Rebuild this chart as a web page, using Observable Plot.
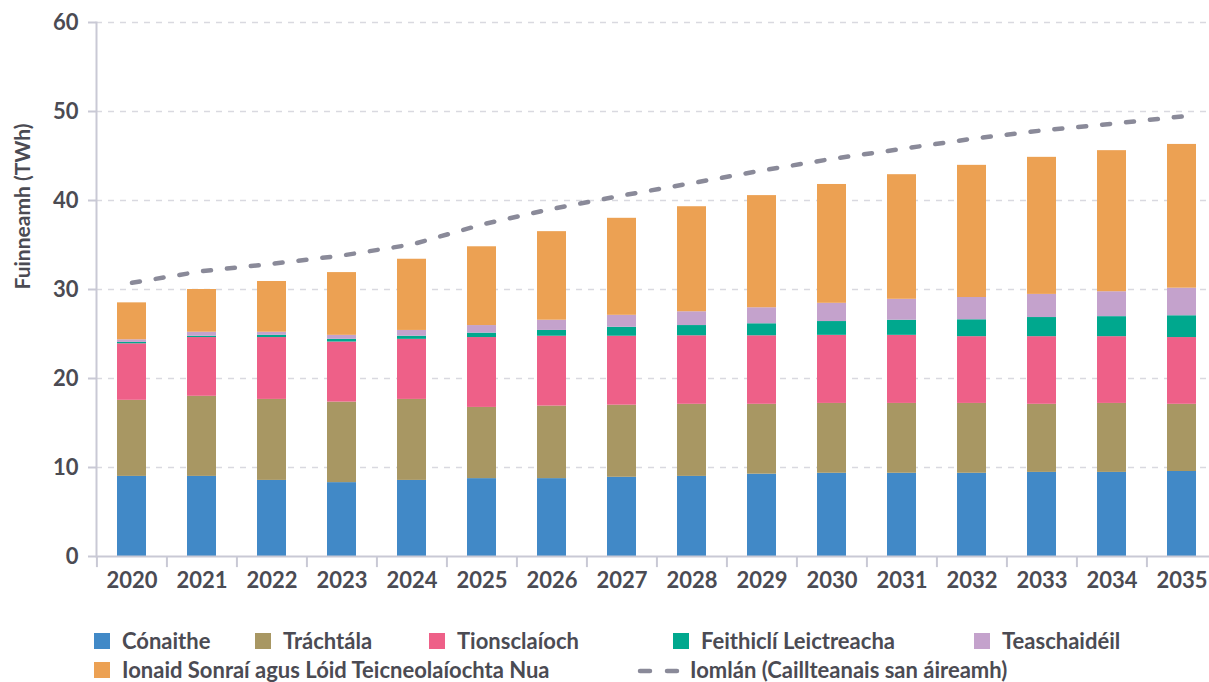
<!DOCTYPE html>
<html><head><meta charset="utf-8">
<script src="https://cdn.jsdelivr.net/npm/d3@7"></script>
<script src="https://cdn.jsdelivr.net/npm/@observablehq/plot@0.6"></script>
<style>
html,body{margin:0;padding:0;background:#fff;overflow:hidden}
#wrap{position:relative;width:1209px;height:682px;font-family:Lato,sans-serif;color:#4b4b53}
#chart{position:absolute;left:0;top:0}
.item{position:absolute;display:flex;align-items:center;font-size:22px;font-weight:700;white-space:nowrap;line-height:24px;height:24px}
.sw{width:16px;height:16px;margin-right:12px;flex:none}
</style></head><body><div id="wrap"><div id="chart"></div><div id="legend"></div></div>
<script>
const years = ["2020","2021","2022","2023","2024","2025","2026","2027","2028","2029","2030","2031","2032","2033","2034","2035"];
const seriesNames = ["Cónaithe","Tráchtála","Tionsclaíoch","Feithiclí Leictreacha","Teaschaidéil","Ionaid Sonraí agus Lóid Teicneolaíochta Nua"];
const seriesColors = ["#4189c7","#a89763","#ee6088","#00a88e","#c4a2cc","#eca153"];
const conaithe     = [9.0, 9.0, 8.55, 8.3, 8.55, 8.75, 8.75, 8.9, 9.0, 9.25, 9.35, 9.35, 9.35, 9.45, 9.45, 9.55];
const trachtala    = [8.55, 9.0, 9.1, 9.05, 9.1, 8.0, 8.15, 8.1, 8.1, 7.85, 7.85, 7.85, 7.85, 7.65, 7.75, 7.55];
const tionsclaioch = [6.35, 6.6, 6.95, 6.75, 6.75, 7.85, 7.85, 7.75, 7.7, 7.7, 7.65, 7.65, 7.5, 7.6, 7.5, 7.5];
const feithicli    = [0.15, 0.15, 0.25, 0.3, 0.35, 0.5, 0.65, 1.0, 1.15, 1.35, 1.55, 1.7, 1.9, 2.15, 2.25, 2.45];
const teaschaideil = [0.3, 0.45, 0.35, 0.45, 0.65, 0.85, 1.15, 1.35, 1.55, 1.8, 2.05, 2.35, 2.5, 2.6, 2.8, 3.1];
const ionaid       = [4.15, 4.8, 5.7, 7.05, 8.0, 8.85, 9.95, 10.9, 11.8, 12.6, 13.35, 14.0, 14.85, 15.4, 15.85, 16.15];
const iomlan       = [30.75, 32.06, 32.88, 33.82, 35.06, 37.3, 39.06, 40.56, 41.95, 43.37, 44.68, 45.8, 46.93, 47.87, 48.62, 49.44];
const lineName = "Iomlán (Caillteanais san áireamh)";
const yLabel = "Fuinneamh (TWh)";
const yTicks = [0,10,20,30,40,50,60];

const seriesValues = [conaithe, trachtala, tionsclaioch, feithicli, teaschaideil, ionaid];
const rows = [];
seriesNames.forEach((s,i)=>years.forEach((y,j)=>rows.push({year:y, key:s, value:seriesValues[i][j]})));
const totalRows = years.map((y,j)=>({year:y, total:iomlan[j]}));

const axisColor = "#c9c9d5";
const plot = Plot.plot({
  width: 1209, height: 600,
  marginTop: 22, marginBottom: 44, marginLeft: 96, marginRight: 0,
  style: {fontFamily: "Lato, sans-serif", fontSize: "22px", fontWeight: 700, color: "#4b4b53", background: "transparent", overflow: "hidden"},
  x: {type: "band", domain: years, range: [95.4, 1218], paddingInner: 0.587, paddingOuter: 0.2935, label: null},
  y: {domain: [0, 60], label: null},
  color: {domain: seriesNames, range: seriesColors},
  marks: [
    Plot.gridY(yTicks.filter(d => d > 0), {stroke: "#d9d9e0", strokeOpacity: 1, strokeWidth: 1.5, strokeDasharray: "6,6"}),
    Plot.barY(rows, {x: "year", y: "value", fill: "key", order: seriesNames}),
    Plot.ruleY([0], {stroke: axisColor, strokeWidth: 2}),
    Plot.frame({anchor: "left", stroke: axisColor, strokeWidth: 2}),
    Plot.ruleX(years, {x: d => d, y1: 0, y2: -1.25, dx: -35.08, stroke: axisColor, strokeWidth: 2}),
    Plot.axisY({ticks: yTicks, tickSize: 8, tickPadding: 10, stroke: axisColor, strokeWidth: 2, label: null}),
    Plot.axisX({tickSize: 0, tickPadding: 16, label: null}),
    Plot.line(totalRows, {x: "year", y: "total", stroke: "#8a8a99", strokeWidth: 4.5, strokeDasharray: "8,16", strokeLinecap: "round"}),
    Plot.text([yLabel], {frameAnchor: "left", rotate: -90, dx: -73, fontSize: 21, fontWeight: 700, fill: "#4b4b53"})
  ]
});
document.getElementById("chart").appendChild(plot);

const legend = document.getElementById("legend");
const pos = [[94,629],[255,629],[429,629],[673,629],[974,629],[94,658]];
seriesNames.forEach((s,i)=>{
  const d = document.createElement("div");
  d.className = "item";
  d.style.left = pos[i][0] + "px"; d.style.top = pos[i][1] + "px";
  d.innerHTML = `<span class="sw" style="background:${seriesColors[i]}"></span><span>${s}</span>`;
  legend.appendChild(d);
});
const dl = document.createElement("div");
dl.className = "item";
dl.style.left = "636px"; dl.style.top = "658px";
dl.innerHTML = `<svg width="46" height="10" style="margin-right:8px;flex:none"><line x1="4" y1="6" x2="44" y2="6" stroke="#8a8a99" stroke-width="4.5" stroke-linecap="round" stroke-dasharray="10,17"></line></svg><span>${lineName}</span>`;
legend.appendChild(dl);
</script></body></html>
